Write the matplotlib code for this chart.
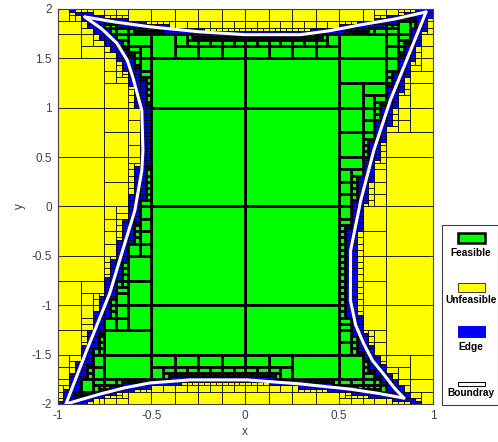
"""SIVIA-style paving of a feasible set, with the boundary curves on top."""

import numpy as np
import matplotlib.pyplot as plt
from matplotlib.patches import Rectangle
from matplotlib.collections import PatchCollection
from matplotlib.ticker import FormatStrFormatter

plt.rcParams['font.family'] = ['Liberation Sans', 'DejaVu Sans']

# boundary curves
left_y = [1.92, 1.80, 1.655, 1.48, 1.31, 0.975, 0.57, 0.365, -0.04, -0.376, -0.88, -1.46, -2.0]
left_x = [-0.855, -0.765, -0.684, -0.628, -0.599, -0.551, -0.545, -0.551, -0.588, -0.642, -0.722, -0.845, -0.955]

right_y = [1.97, 1.507, 1.078, 0.57, 0.06, -0.447, -0.95, -1.20, -1.39, -1.56, -1.70, -1.84, -1.94]
right_x = [0.963, 0.865, 0.773, 0.685, 0.615, 0.561, 0.56, 0.588, 0.631, 0.678, 0.738, 0.795, 0.845]

top_x = [-0.855, -0.70, -0.508, -0.25, 0.0, 0.294, 0.45, 0.615, 0.80, 0.963]
top_y = [1.92, 1.87, 1.82, 1.77, 1.74, 1.74, 1.78, 1.84, 1.90, 1.97]

bot_x = [-0.955, -0.775, -0.64, -0.508, -0.294, 0.01, 0.294, 0.561, 0.70, 0.845]
bot_y = [-2.0, -1.90, -1.835, -1.787, -1.756, -1.756, -1.797, -1.85, -1.89, -1.94]

domain_x = (-1.0, 1.0)
domain_y = (-2.0, 2.0)
eps = 0.04
margin = 0.013      # fixed widening of each tested box
pessimism = 0.04    # extra widening, relative to box size

x_ticks = [-1, -0.5, 0, 0.5, 1]
y_ticks = [-2, -1.5, -1, -0.5, 0, 0.5, 1, 1.5, 2]
legend_labels = ["Feasible", "Unfeasible", "Edge", "Boundray"]

# constraint model: polynomial fits of the read curves
p_left = np.polyfit(left_y, left_x, 4)
p_right = np.polyfit(right_y, right_x, 4)
p_top = np.polyfit(top_x, top_y, 3)
p_bot = np.polyfit(bot_x, bot_y, 3)


def prange(p, lo, hi):
    """range of a polynomial over [lo, hi] (ends + critical points)."""
    pts = [lo, hi]
    for r in np.roots(np.polyder(p)):
        if abs(r.imag) < 1e-12 and lo < r.real < hi:
            pts.append(r.real)
    v = np.polyval(p, pts)
    return v.min(), v.max()


def test(x0, x1, y0, y1):
    # widen the box a bit to mimic a pessimistic inclusion function
    dx = margin + pessimism * (x1 - x0)
    dy = margin + pessimism * (y1 - y0)
    x0, x1, y0, y1 = x0 - dx, x1 + dx, y0 - dy, y1 + dy
    xl = prange(p_left, y0, y1)
    xr = prange(p_right, y0, y1)
    yt = prange(p_top, x0, x1)
    yb = prange(p_bot, x0, x1)
    g = [(xl[0] - x1, xl[1] - x0),
         (x0 - xr[1], x1 - xr[0]),
         (yb[0] - y1, yb[1] - y0),
         (y0 - yt[1], y1 - yt[0])]
    if any(lo > 0 for lo, hi in g):
        return "out"
    if all(hi <= 0 for lo, hi in g):
        return "in"
    return "?"


inner, outer, edge = [], [], []
stack = [(domain_x[0], domain_x[1], domain_y[0], domain_y[1])]
while stack:
    x0, x1, y0, y1 = stack.pop()
    t = test(x0, x1, y0, y1)
    if t == "in":
        inner.append((x0, x1, y0, y1))
    elif t == "out":
        outer.append((x0, x1, y0, y1))
    elif (x1 - x0) < eps and (y1 - y0) < eps:
        edge.append((x0, x1, y0, y1))
    elif (x1 - x0) >= (y1 - y0):
        xm = 0.5 * (x0 + x1)
        stack += [(x0, xm, y0, y1), (xm, x1, y0, y1)]
    else:
        ym = 0.5 * (y0 + y1)
        stack += [(x0, x1, y0, ym), (x0, x1, ym, y1)]


def rects(boxes):
    return [Rectangle((b[0], b[2]), b[1] - b[0], b[3] - b[2]) for b in boxes]


fig = plt.figure(figsize=(4.98, 4.42), dpi=100)
ax = fig.add_axes([57.5 / 498, 1 - 404 / 442, 375.5 / 498, 395 / 442])

ax.add_collection(PatchCollection(rects(outer), facecolor='#ffff00', edgecolor='#202000', linewidth=0.7))
ax.add_collection(PatchCollection(rects(edge), facecolor='#0000ff', edgecolor='black', linewidth=0.5))
ax.add_collection(PatchCollection(rects(inner), facecolor='#00ff00', edgecolor='black', linewidth=2.0))

for cx, cy in [(left_x, left_y), (right_x, right_y), (top_x, top_y), (bot_x, bot_y)]:
    ax.plot(cx, cy, color='white', lw=2.2, solid_capstyle='round', solid_joinstyle='round')

ax.set_xlim(*domain_x)
ax.set_ylim(*domain_y)
ax.set_xticks(x_ticks)
ax.set_yticks(y_ticks)
ax.xaxis.set_major_formatter(FormatStrFormatter('%g'))
ax.yaxis.set_major_formatter(FormatStrFormatter('%g'))
ax.tick_params(direction='in', length=3, labelsize=8.5, colors='#404040',
               labelcolor='#404040', top=True, right=True, pad=4)
ax.set_xlabel('x', fontsize=8.5, color='#404040', labelpad=3)
ax.set_ylabel('y', fontsize=8.5, color='#404040', labelpad=4)
for s in ax.spines.values():
    s.set_color('#404040')
    s.set_linewidth(0.8)

# legend drawn by hand: handle above label
W, H = 498.0, 442.0
fig.add_artist(Rectangle((442 / W, 1 - 405 / H), 55.5 / W, 180 / H, transform=fig.transFigure,
                         facecolor='white', edgecolor='#404040', lw=0.8))
handles = [('#00ff00', 'black', 1.8, 233, 10), ('#ffff00', '#404000', 0.7, 283, 9),
           ('#0000ff', '#0000ff', 0.7, 326, 11), ('white', 'black', 0.7, 382, 4)]
label_y = [253, 300, 347, 393]
for (fc, ec, lw, top, h), lab, ly in zip(handles, legend_labels, label_y):
    fig.add_artist(Rectangle((458 / W, 1 - (top + h) / H), 27 / W, h / H, transform=fig.transFigure,
                             facecolor=fc, edgecolor=ec, lw=lw))
    fig.text(471 / W, 1 - ly / H, lab, ha='center', va='center', fontsize=7.3, fontweight='bold')

fig.savefig('out.png', dpi=100)
